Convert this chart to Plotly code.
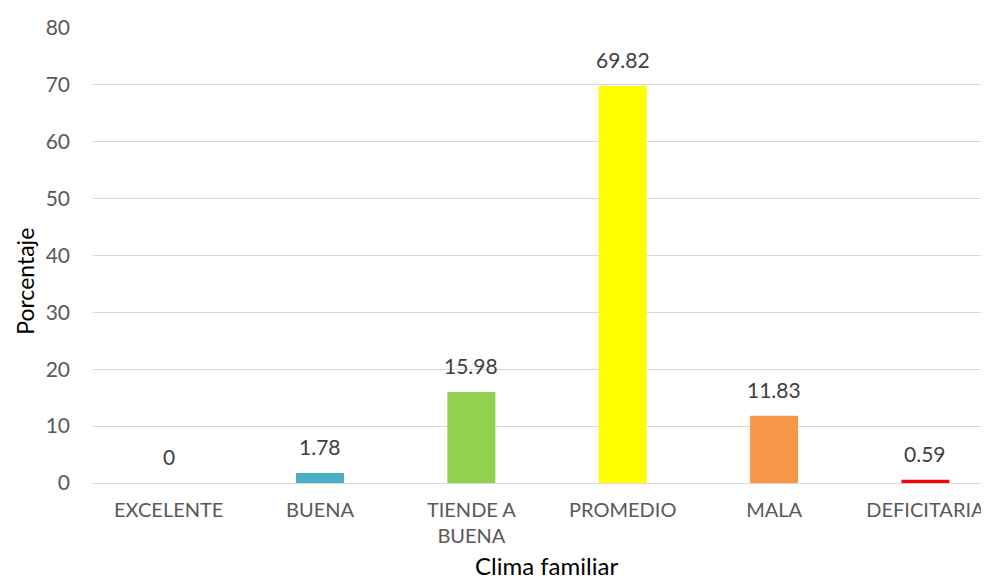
import plotly.graph_objects as go

categories = ["EXCELENTE", "BUENA", "TIENDE A<br>BUENA", "PROMEDIO", "MALA", "DEFICITARIA"]
values = [0, 1.78, 15.98, 69.82, 11.83, 0.59]
labels = ["0", "1.78", "15.98", "69.82", "11.83", "0.59"]
colors = ["#4472C4", "#4BACC6", "#92D050", "#FFFF00", "#F79646", "#FF0000"]
yticks = [0, 10, 20, 30, 40, 50, 60, 70, 80]

FONT = "Lato"

fig = go.Figure()
fig.add_trace(go.Bar(
    x=categories, y=values, marker=dict(color=colors, line=dict(width=0)),
    width=0.317, hoverinfo="skip",
))

for c, v, t in zip(categories, values, labels):
    fig.add_annotation(x=c, y=v, text=t, showarrow=False, yanchor="bottom",
                       yshift=12, font=dict(family=FONT, size=21, color="#404040"))

fig.add_annotation(xref="paper", yref="paper", x=-0.0755, y=0.443, text="Porcentaje",
                   textangle=-90, showarrow=False, xanchor="center", yanchor="middle",
                   font=dict(family=FONT, size=23, color="#000000"))
fig.add_annotation(xref="paper", yref="paper", x=0.5062, y=-0.181, text="Clima familiar",
                   showarrow=False, xanchor="center", yanchor="middle",
                   font=dict(family=FONT, size=24, color="#000000"))

fig.update_layout(
    width=981, height=573,
    margin=dict(l=85, r=0, t=20, b=98),
    paper_bgcolor="white", plot_bgcolor="white",
    showlegend=False,
    font=dict(family=FONT, size=21, color="#595959"),
    xaxis=dict(range=[-0.5, 5.42], showgrid=False, showline=False, zeroline=False,
               ticks="", ticklabelstandoff=13, tickfont=dict(family=FONT, size=20, color="#595959")),
    yaxis=dict(range=[0, 80], tickvals=yticks, showgrid=True, gridcolor="#D9D9D9", gridwidth=1.3,
               zeroline=True, zerolinecolor="#D9D9D9", zerolinewidth=1.3, showline=False,
               ticks="", ticklabelstandoff=22, tickfont=dict(family=FONT, size=21, color="#595959")),
)

fig.write_html("out.html")
